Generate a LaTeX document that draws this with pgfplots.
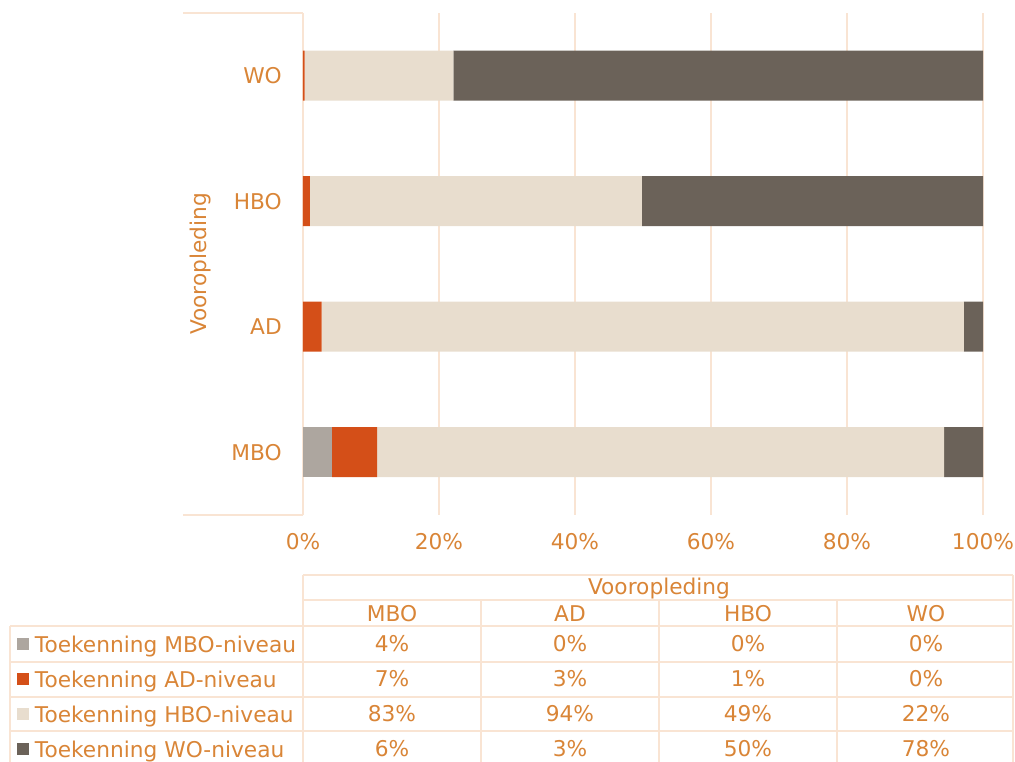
\documentclass[border=0pt]{standalone}
\usepackage{pgfplots}
\pgfplotsset{compat=1.18}
\usepackage{fontspec}
\setmainfont{DejaVu Sans}
\definecolor{txt}{RGB}{217,133,55}
\definecolor{gridc}{RGB}{249,228,211}
\definecolor{cMBO}{RGB}{173,166,159}
\definecolor{cAD}{RGB}{212,79,24}
\definecolor{cHBO}{RGB}{232,221,206}
\definecolor{cWO}{RGB}{107,98,89}
\newcommand\f{\fontsize{21.7}{26}\selectfont}
\pgfplotsset{sq/.style={legend image code/.code={\fill[##1] (0pt,-3.5pt) rectangle (12pt,8.5pt);}}}
\begin{document}
\f
\begin{tikzpicture}[font=\f, x=1pt, y=1pt]
\useasboundingbox (0,0) rectangle (1015,762);
% decoration lines (box around category labels and data table grid)
\begin{scope}[gridc, line width=2pt]
\draw (183,749) -- (303,749);
\draw (183,247) -- (303,247);
\draw (303,187) -- (1013,187);
\draw (303,162) -- (1013,162);
\foreach \yy in {136,100,65,31} {\draw (10,\yy) -- (1013,\yy);}
\draw (10,136) -- (10,0);
\draw (303,187) -- (303,0);
\foreach \xx in {481,659,837} {\draw (\xx,162) -- (\xx,0);}
\draw (1013,187) -- (1013,0);
\end{scope}
\begin{axis}[
  at={(303pt,247pt)}, anchor=south west,
  scale only axis, width=680pt, height=502pt,
  xbar stacked, bar width=50pt,
  xmin=0, xmax=100, ymin=-0.5, ymax=3.5,
  xtick={0,20,40,60,80,100},
  xticklabel={\pgfmathprintnumber{\tick}\%},
  ytick={0,1,2,3}, yticklabels={MBO,AD,HBO,WO},
  /pgf/number format/assume math mode=true,
  axis line style={draw=none},
  major tick length=0pt,
  xmajorgrids, grid style={gridc, line width=2pt},
  tick label style={text=txt, font=\f, inner sep=0pt},
  xticklabel style={yshift=-18pt},
  yticklabel style={xshift=-21pt},
  ylabel={Vooropleding},
  every axis y label/.style={at={(axis description cs:-0.1412,0.5)}, rotate=90, anchor=base, inner sep=0pt, text=txt, font=\f},
  legend style={at={(axis description cs:-0.42059,-0.24104)}, anchor=north west,
    draw=none, fill=none, inner sep=0pt, outer sep=0pt, row sep=14pt, column sep=6pt,
    font=\f, text=txt,
    nodes={inner sep=0pt, text height=16pt, text depth=5pt}},
  legend cell align=left,
]
\addplot[fill=cMBO, draw=none, sq] coordinates {(4.3,0) (0,1) (0,2) (0,3)};
\addlegendentry{Toekenning MBO-niveau}
\addplot[fill=cAD, draw=none, sq] coordinates {(6.6,0) (2.75,1) (1.0,2) (0.25,3)};
\addlegendentry{Toekenning AD-niveau}
\addplot[fill=cHBO, draw=none, sq] coordinates {(83.4,0) (94.45,1) (48.85,2) (21.85,3)};
\addlegendentry{Toekenning HBO-niveau}
\addplot[fill=cWO, draw=none, sq] coordinates {(5.7,0) (2.8,1) (50.15,2) (77.9,3)};
\addlegendentry{Toekenning WO-niveau}
\end{axis}
% data table text
\begin{scope}[every node/.style={text=txt, font=\f, anchor=base, inner sep=0pt}]
\node at (659,167) {Vooropleding};
\node at (392,140) {MBO};
\node at (570,140) {AD};
\node at (748,140) {HBO};
\node at (926,140) {WO};
\node at (392,110) {4\%}; \node at (570,110) {0\%}; \node at (748,110) {0\%}; \node at (926,110) {0\%};
\node at (392,75) {7\%}; \node at (570,75) {3\%}; \node at (748,75) {1\%}; \node at (926,75) {0\%};
\node at (392,40) {83\%}; \node at (570,40) {94\%}; \node at (748,40) {49\%}; \node at (926,40) {22\%};
\node at (392,5) {6\%}; \node at (570,5) {3\%}; \node at (748,5) {50\%}; \node at (926,5) {78\%};
\end{scope}
\end{tikzpicture}
\end{document}
